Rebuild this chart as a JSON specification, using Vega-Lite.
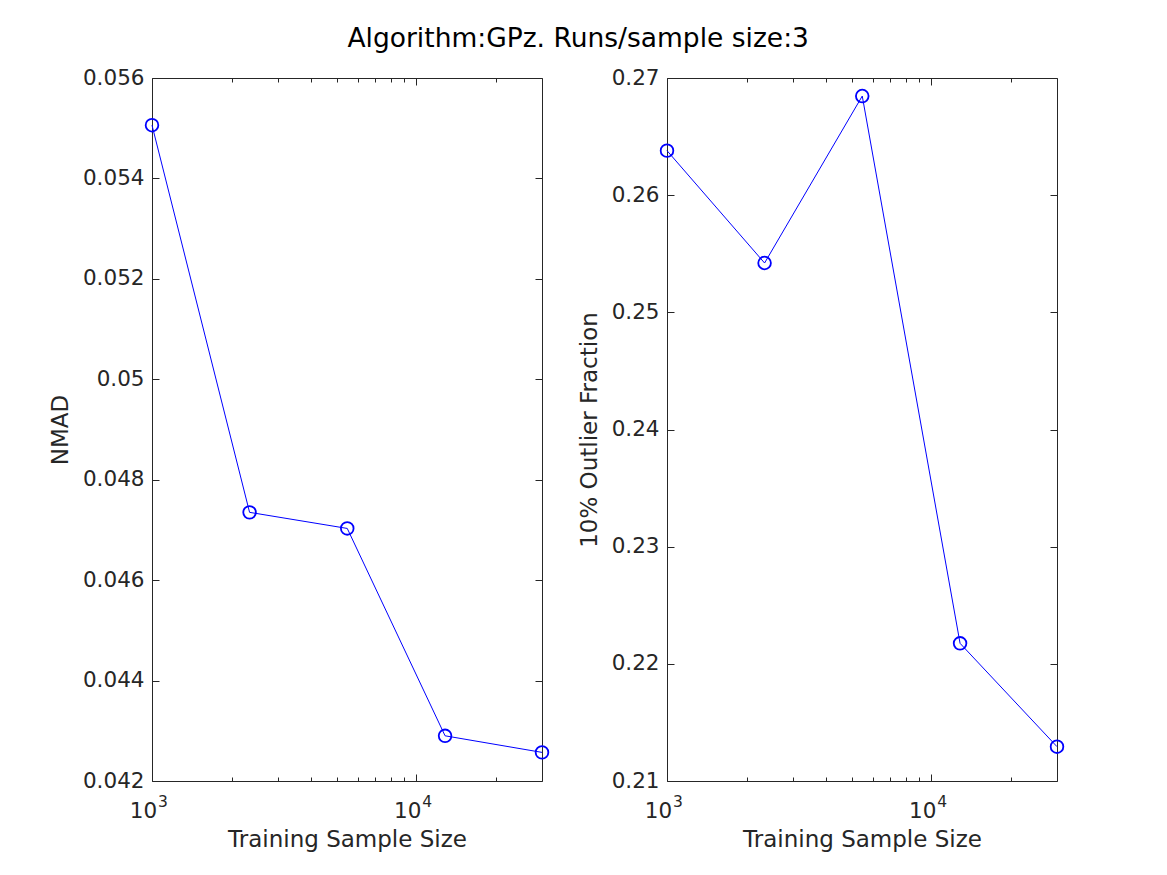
{
  "$schema": "https://vega.github.io/schema/vega-lite/v6.json",
  "padding": {"left": 49, "top": 25, "right": 5, "bottom": 5},
  "background": "white",
  "title": {"text": "Algorithm:GPz. Runs/sample size:3", "font": "DejaVu Sans", "fontSize": 26.5, "fontWeight": "normal", "color": "#000000", "anchor": "middle", "offset": 15, "dx": 20},
  "config": {
    "view": {"stroke": null},
    "axis": {"labelFont": "DejaVu Sans", "titleFont": "DejaVu Sans", "labelColor": "#262626", "titleColor": "#262626", "domainColor": "#262626", "tickColor": "#262626", "labelFontSize": 21.5, "titleFontSize": 23, "titleFontWeight": "normal", "grid": false, "domainWidth": 1, "tickWidth": 1, "labelFlush": false, "labelOverlap": false}
  },
  "datasets": {
    "nmad": [
      {"n": 1000, "v": 0.05506},
      {"n": 2340, "v": 0.04735},
      {"n": 5480, "v": 0.04703},
      {"n": 12850, "v": 0.04290},
      {"n": 29900, "v": 0.04257}
    ],
    "outlier": [
      {"n": 1000, "v": 0.2638},
      {"n": 2340, "v": 0.25421},
      {"n": 5480, "v": 0.26846},
      {"n": 12850, "v": 0.22175},
      {"n": 29900, "v": 0.21293}
    ]
  },
  "hconcat": [
    {
      "width": 390,
      "height": 703,
      "data": {"name": "nmad"},
      "resolve": {"axis": {"x": "independent", "y": "independent"}},
      "layer": [
        {
          "mark": {"type": "line", "color": "#0000ff", "strokeWidth": 1},
          "encoding": {
            "x": {"field": "n", "type": "quantitative", "scale": {"type": "log", "domain": [1000, 29900], "nice": false, "zero": false}, "axis": {"orient": "bottom", "values": [1000, 10000], "labelExpr": "'10'", "labelOffset": -9, "labelBaseline": "alphabetic", "tickSize": -7, "labelPadding": 43, "title": "Training Sample Size", "titlePadding": 7}},
            "y": {"field": "v", "type": "quantitative", "scale": {"domain": [0.042, 0.056], "nice": false, "zero": false}, "axis": {"orient": "left", "values": [0.042, 0.044, 0.046, 0.048, 0.05, 0.052, 0.054, 0.056], "format": "~g", "tickSize": -7, "labelPadding": 15, "title": "NMAD", "titlePadding": 10}}
          }
        },
        {
          "mark": {"type": "point", "shape": "circle", "filled": false, "color": "#0000ff", "size": 160, "strokeWidth": 1.8, "opacity": 1},
          "encoding": {
            "x": {"field": "n", "type": "quantitative", "axis": {"orient": "top", "values": [1000, 10000], "labels": false, "tickSize": -7, "title": null}},
            "y": {"field": "v", "type": "quantitative", "axis": {"orient": "right", "values": [0.042, 0.044, 0.046, 0.048, 0.05, 0.052, 0.054, 0.056], "labels": false, "tickSize": -7, "title": null}}
          }
        },
        {
          "mark": {"type": "point", "opacity": 0},
          "encoding": {
            "x": {"field": "n", "type": "quantitative", "axis": {"orient": "bottom", "values": [2000, 3000, 4000, 5000, 6000, 7000, 8000, 9000, 20000], "labels": false, "domain": false, "tickSize": -4, "title": null}},
            "y": {"field": "v", "type": "quantitative", "axis": null}
          }
        },
        {
          "mark": {"type": "point", "opacity": 0},
          "encoding": {
            "x": {"field": "n", "type": "quantitative", "axis": {"orient": "top", "values": [2000, 3000, 4000, 5000, 6000, 7000, 8000, 9000, 20000], "labels": false, "domain": false, "tickSize": -4, "title": null}},
            "y": {"field": "v", "type": "quantitative", "axis": null}
          }
        },
        {
          "mark": {"type": "point", "opacity": 0},
          "encoding": {
            "x": {"field": "n", "type": "quantitative", "axis": {"orient": "bottom", "values": [1000, 10000], "labelExpr": "datum.value == 1000 ? '3' : '4'", "labelFontSize": 15.5, "labelOffset": 10.5, "labelBaseline": "alphabetic", "ticks": false, "domain": false, "labelPadding": 25, "title": null}},
            "y": {"field": "v", "type": "quantitative", "axis": null}
          }
        }
      ]
    },
    {
      "width": 390,
      "height": 703,
      "data": {"name": "outlier"},
      "resolve": {"axis": {"x": "independent", "y": "independent"}},
      "layer": [
        {
          "mark": {"type": "line", "color": "#0000ff", "strokeWidth": 1},
          "encoding": {
            "x": {"field": "n", "type": "quantitative", "scale": {"type": "log", "domain": [1000, 29900], "nice": false, "zero": false}, "axis": {"orient": "bottom", "values": [1000, 10000], "labelExpr": "'10'", "labelOffset": -9, "labelBaseline": "alphabetic", "tickSize": -7, "labelPadding": 43, "title": "Training Sample Size", "titlePadding": 7}},
            "y": {"field": "v", "type": "quantitative", "scale": {"domain": [0.21, 0.27], "nice": false, "zero": false}, "axis": {"orient": "left", "values": [0.21, 0.22, 0.23, 0.24, 0.25, 0.26, 0.27], "format": "~g", "tickSize": -7, "labelPadding": 15, "title": "10% Outlier Fraction", "titlePadding": 10}}
          }
        },
        {
          "mark": {"type": "point", "shape": "circle", "filled": false, "color": "#0000ff", "size": 160, "strokeWidth": 1.8, "opacity": 1},
          "encoding": {
            "x": {"field": "n", "type": "quantitative", "axis": {"orient": "top", "values": [1000, 10000], "labels": false, "tickSize": -7, "title": null}},
            "y": {"field": "v", "type": "quantitative", "axis": {"orient": "right", "values": [0.21, 0.22, 0.23, 0.24, 0.25, 0.26, 0.27], "labels": false, "tickSize": -7, "title": null}}
          }
        },
        {
          "mark": {"type": "point", "opacity": 0},
          "encoding": {
            "x": {"field": "n", "type": "quantitative", "axis": {"orient": "bottom", "values": [2000, 3000, 4000, 5000, 6000, 7000, 8000, 9000, 20000], "labels": false, "domain": false, "tickSize": -4, "title": null}},
            "y": {"field": "v", "type": "quantitative", "axis": null}
          }
        },
        {
          "mark": {"type": "point", "opacity": 0},
          "encoding": {
            "x": {"field": "n", "type": "quantitative", "axis": {"orient": "top", "values": [2000, 3000, 4000, 5000, 6000, 7000, 8000, 9000, 20000], "labels": false, "domain": false, "tickSize": -4, "title": null}},
            "y": {"field": "v", "type": "quantitative", "axis": null}
          }
        },
        {
          "mark": {"type": "point", "opacity": 0},
          "encoding": {
            "x": {"field": "n", "type": "quantitative", "axis": {"orient": "bottom", "values": [1000, 10000], "labelExpr": "datum.value == 1000 ? '3' : '4'", "labelFontSize": 15.5, "labelOffset": 10.5, "labelBaseline": "alphabetic", "ticks": false, "domain": false, "labelPadding": 25, "title": null}},
            "y": {"field": "v", "type": "quantitative", "axis": null}
          }
        }
      ]
    }
  ],
  "spacing": 26
}
